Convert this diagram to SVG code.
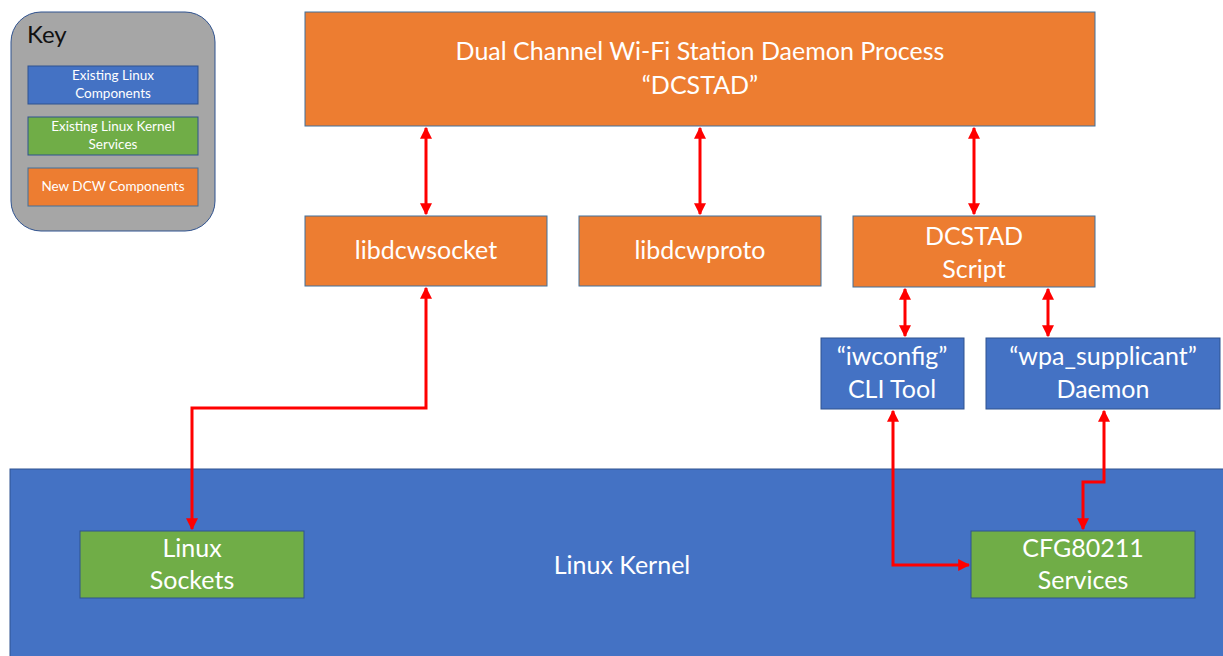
<svg xmlns="http://www.w3.org/2000/svg" width="1223" height="656" viewBox="0 0 1223 656">
<defs>
<marker id="ah" viewBox="0 0 10 10" refX="9" refY="5" markerWidth="4" markerHeight="4" orient="auto-start-reverse" markerUnits="strokeWidth">
<path d="M0,0 L10,5 L0,10 z" fill="#ff0000"/>
</marker>
<style>
.o{fill:#ed7d31;stroke:#41719c;stroke-width:1}
.b{fill:#4472c4;stroke:#2f528f;stroke-width:1}
.g{fill:#70ad47;stroke:#2f528f;stroke-width:1}
text{font-family:Lato,"Open Sans",sans-serif;fill:#ffffff;text-anchor:middle}
.t{font-size:25px}
.s{font-size:13.5px}
.c{fill:none;stroke:#ff0000;stroke-width:3;marker-start:url(#ah);marker-end:url(#ah)}
</style>
</defs>
<rect width="1223" height="656" fill="#ffffff"/>
<g id="kernel"><rect class="b" x="10" y="469" width="1220" height="200"/><text class="t" x="622" y="574">Linux Kernel</text></g>
<g id="key">
<rect x="11" y="12" width="204" height="219" rx="30" fill="#a6a6a6" stroke="#2f528f" stroke-width="1"/>
<text x="27" y="43" style="font-size:24px;fill:#111;text-anchor:start">Key</text>
<rect class="b" x="28" y="66" width="170" height="38"/>
<text class="s" x="113" y="80">Existing Linux</text><text class="s" x="113" y="98">Components</text>
<rect class="g" x="28" y="117" width="170" height="38"/>
<text class="s" x="113" y="131">Existing Linux Kernel</text><text class="s" x="113" y="149">Services</text>
<rect class="o" x="28" y="168" width="170" height="38"/>
<text class="s" x="113" y="191">New DCW Components</text>
</g>
<g id="dcstad"><rect class="o" x="305" y="12" width="790" height="114"/><text class="t" x="700" y="60">Dual Channel Wi-Fi Station Daemon Process</text><text class="t" x="700" y="94">“DCSTAD”</text></g>
<g id="libdcwsocket"><rect class="o" x="305" y="216" width="242" height="70"/><text class="t" x="426" y="259">libdcwsocket</text></g>
<g id="libdcwproto"><rect class="o" x="579" y="216" width="242" height="70"/><text class="t" x="700" y="259">libdcwproto</text></g>
<g id="script"><rect class="o" x="853" y="216" width="242" height="71"/><text class="t" x="974" y="245">DCSTAD</text><text class="t" x="974" y="278">Script</text></g>
<g id="iwconfig"><rect class="b" x="821" y="338" width="143" height="71"/><text class="t" x="892" y="365">“iwconfig”</text><text class="t" x="892" y="398">CLI Tool</text></g>
<g id="wpa"><rect class="b" x="986" y="338" width="234" height="71"/><text class="t" x="1103" y="365">“wpa_supplicant”</text><text class="t" x="1103" y="398">Daemon</text></g>
<g id="sockets"><rect class="g" x="80" y="531" width="224" height="67"/><text class="t" x="192" y="557">Linux</text><text class="t" x="192" y="589">Sockets</text></g>
<g id="cfg"><rect class="g" x="971" y="531" width="224" height="67"/><text class="t" x="1083" y="557">CFG80211</text><text class="t" x="1083" y="589">Services</text></g>
<g id="connectors">
<path class="c" d="M426,128 V214"/>
<path class="c" d="M700,128 V214"/>
<path class="c" d="M974,128 V214"/>
<path class="c" d="M426,288 V408 H192 V529"/>
<path class="c" d="M905,289 V336"/>
<path class="c" d="M1048,289 V336"/>
<path class="c" d="M893,411 V565 H969"/>
<path class="c" d="M1104,411 V482 H1083 V529"/>
</g>
</svg>
